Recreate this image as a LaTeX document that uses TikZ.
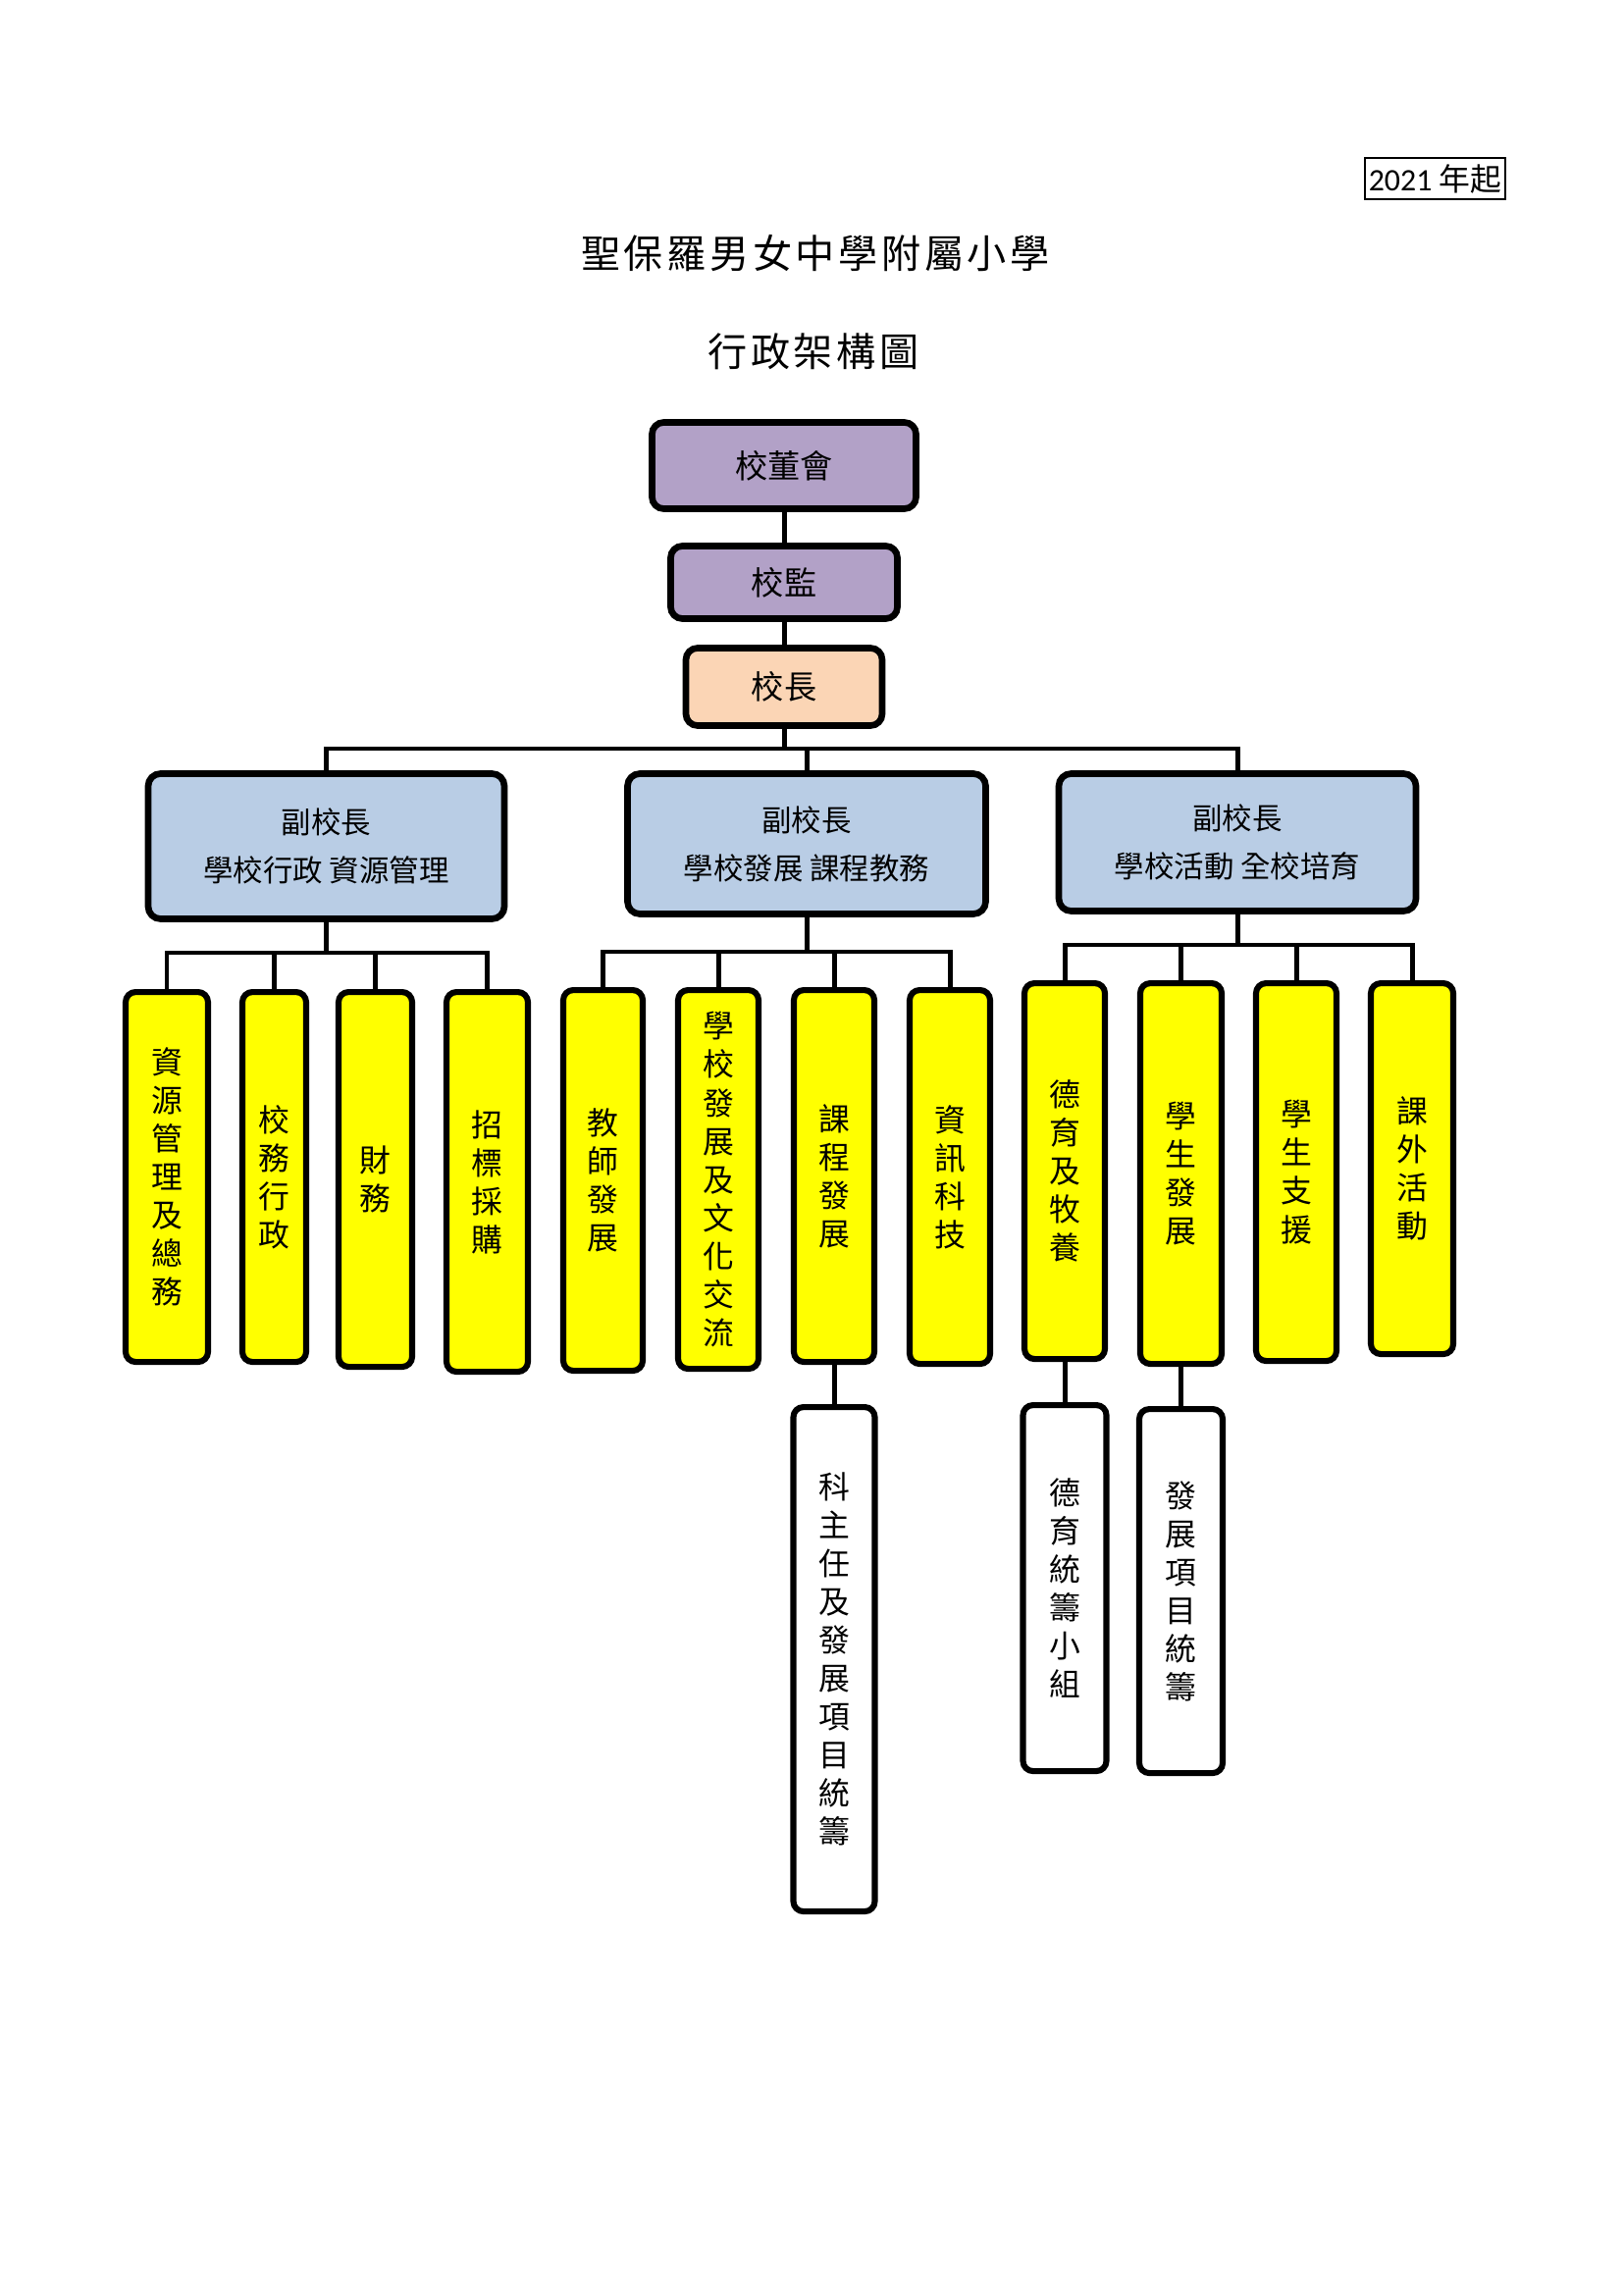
\documentclass[tikz,border=0pt]{standalone}
\usepackage{fontspec}
\setmainfont{Noto Sans CJK TC}
\newfontfamily\digitfont{Carlito}
\newfontfamily\titlefont[LetterSpace=9]{Noto Sans CJK TC}

\definecolor{boardpurple}{HTML}{B2A1C7}
\definecolor{headpeach}{HTML}{FBD5B5}
\definecolor{vpblue}{HTML}{B9CDE5}
\definecolor{unityellow}{HTML}{FFFF00}

\newcommand{\ux}{0.12696mm}

\tikzset{
	topbox/.style={draw, line width=2.4pt, rounded corners=1.5mm, inner sep=0pt, font=\fontsize{12}{14}\selectfont},
	vpbox/.style={draw, line width=2.4pt, rounded corners=1.6mm, fill=vpblue, align=center, inner sep=0pt, font=\fontsize{11}{17.7}\selectfont},
	unitbox/.style={draw, line width=2.2pt, rounded corners=1.3mm, fill=unityellow, anchor=north, align=center, inner sep=0pt, font=\fontsize{11.5}{14.1}\selectfont},
	subbox/.style={unitbox, fill=white},
	link/.style={line width=1.8pt},
	titletext/.style={font=\titlefont\fontsize{14.5}{17}\selectfont},
}

\begin{document}
\begin{tikzpicture}[x=\ux, y=-\ux]
				\useasboundingbox (0, 0) rectangle (1654, 2339);
				
				\node[draw, line width=0.7pt, minimum width=143*\ux, minimum height=42*\ux, inner sep=0.5pt, font=\fontsize{11.5}{13}\selectfont] (since) at (1462.5, 182) {{\digitfont 2021} 年起};
				\node[titletext] (school) at (831, 258) {聖保羅男女中學附屬小學};
				\node[titletext] (chart) at (829, 358) {行政架構圖};
				
				\node[topbox, fill=boardpurple, minimum width=269*\ux, minimum height=88*\ux] (board) at (799, 474.5) {校董會};
				\node[topbox, fill=boardpurple, minimum width=231*\ux, minimum height=74*\ux] (supv) at (799, 593.5) {校監};
				\node[topbox, fill=headpeach, minimum width=200*\ux, minimum height=79*\ux] (head) at (799, 700) {校長};
				
				\node[vpbox, minimum width=363*\ux, minimum height=148*\ux] (vpAdm) at (332.5, 862.5) {副校長\\學校行政 資源管理};
				\node[vpbox, minimum width=365*\ux, minimum height=143*\ux] (vpCur) at (822, 860) {副校長\\學校發展 課程教務};
				\node[vpbox, minimum width=364*\ux, minimum height=140*\ux] (vpAct) at (1261, 858.5) {副校長\\學校活動 全校培育};
				
				\node[unitbox, minimum width=84*\ux, minimum height=377*\ux] (resM) at (170, 1008) {資\\源\\管\\理\\及\\總\\務};
				\node[unitbox, minimum width=65*\ux, minimum height=377*\ux] (admin) at (279.5, 1008) {校\\務\\行\\政};
				\node[unitbox, minimum width=75*\ux, minimum height=382*\ux] (fin) at (382.5, 1008) {財\\務};
				\node[unitbox, minimum width=83*\ux, minimum height=387*\ux] (tender) at (496.5, 1008) {招\\標\\採\\購};
				
				\node[unitbox, minimum width=81*\ux, minimum height=388*\ux] (tchDev) at (614.5, 1006) {教\\師\\發\\展};
				\node[unitbox, minimum width=82*\ux, minimum height=386*\ux] (schDev) at (732, 1006) {學\\校\\發\\展\\及\\文\\化\\交\\流};
				\node[unitbox, minimum width=82*\ux, minimum height=379*\ux] (curDev) at (850, 1006) {課\\程\\發\\展};
				\node[unitbox, minimum width=82*\ux, minimum height=381*\ux] (itTech) at (968, 1006) {資\\訊\\科\\技};
				
				\node[unitbox, minimum width=82*\ux, minimum height=383*\ux] (moral) at (1085, 999) {德\\育\\及\\牧\\養};
				\node[unitbox, minimum width=83*\ux, minimum height=388*\ux] (stuDev) at (1203.5, 999) {學\\生\\發\\展};
				\node[unitbox, minimum width=82*\ux, minimum height=385*\ux] (stuSup) at (1321, 999) {學\\生\\支\\援};
				\node[unitbox, minimum width=84*\ux, minimum height=378*\ux] (eca) at (1439, 999) {課\\外\\活\\動};
				
				\node[subbox, minimum width=83*\ux, minimum height=514*\ux] (subjH) at (850, 1431) {科\\主\\任\\及\\發\\展\\項\\目\\統\\籌};
				\node[subbox, minimum width=85*\ux, minimum height=373*\ux] (moralG) at (1085, 1429) {德\\育\\統\\籌\\小\\組};
				\node[subbox, minimum width=85*\ux, minimum height=371*\ux] (projC) at (1203.5, 1433) {發\\展\\項\\目\\統\\籌};
				
				\coordinate (topbar) at (0, 763);
				\coordinate (barA) at (0, 971);
				\coordinate (barB) at (0, 970);
				\coordinate (barC) at (0, 963);
				
				\draw[link] (board) -- (supv);
				\draw[link] (supv) -- (head);
				\draw[link] (head.south) -- (head.south |- topbar) -| (vpAdm.north);
				\draw[link] (head.south |- topbar) -| (vpCur.north);
				\draw[link] (head.south |- topbar) -| (vpAct.north);
				
				\draw[link] (vpAdm.south) -- (vpAdm.south |- barA) -| (resM.north);
				\draw[link] (vpAdm.south |- barA) -| (admin.north);
				\draw[link] (vpAdm.south |- barA) -| (fin.north);
				\draw[link] (vpAdm.south |- barA) -| (tender.north);
				
				\draw[link] (vpCur.south) -- (vpCur.south |- barB) -| (tchDev.north);
				\draw[link] (vpCur.south |- barB) -| (schDev.north);
				\draw[link] (vpCur.south |- barB) -| (curDev.north);
				\draw[link] (vpCur.south |- barB) -| (itTech.north);
				
				\draw[link] (vpAct.south) -- (vpAct.south |- barC) -| (moral.north);
				\draw[link] (vpAct.south |- barC) -| (stuDev.north);
				\draw[link] (vpAct.south |- barC) -| (stuSup.north);
				\draw[link] (vpAct.south |- barC) -| (eca.north);
				
				\draw[link] (curDev.south) -- (subjH.north);
				\draw[link] (moral.south) -- (moralG.north);
				\draw[link] (stuDev.south) -- (projC.north);
\end{tikzpicture}
\end{document}
